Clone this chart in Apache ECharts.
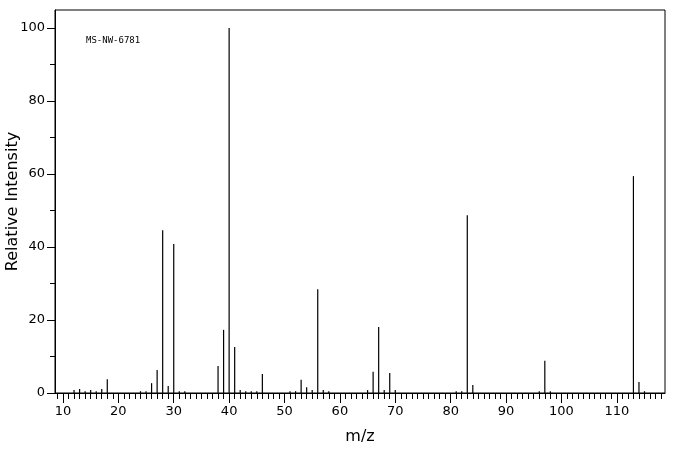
<!DOCTYPE html>
<html><head><meta charset="utf-8">
<script src="https://cdn.jsdelivr.net/npm/echarts@6/dist/echarts.min.js"></script>
<style>html,body{margin:0;padding:0;background:#fff}#c{width:676px;height:455px}</style>
</head><body><div id="c"></div>
<script>
const mz = [12,13,14,15,16,17,18,24,25,26,27,28,29,30,31,32,38,39,40,41,42,43,44,45,46,51,52,53,54,55,56,57,58,65,66,67,68,69,70,81,82,83,84,96,97,98,113,114,115];
const intensity = [0.8,1.1,0.5,0.8,0.5,1.1,3.8,0.5,0.5,2.7,6.3,44.6,1.9,40.8,0.5,0.5,7.4,17.3,100,12.6,0.8,0.5,0.5,0.5,5.2,0.5,0.5,3.6,1.6,0.8,28.4,0.8,0.5,0.8,5.8,18.1,0.8,5.5,0.8,0.5,0.5,48.7,2.2,0.5,8.8,0.5,59.4,3.0,0.5];
const xLabels = [10,20,30,40,50,60,70,80,90,100,110];
const yLabels = [0,20,40,60,80,100];
const minorX = []; for (let v = 9; v <= 118; v++) minorX.push(v);
const minorY = [10,30,50,70,90];
const font = 'DejaVu Sans';
const chart = echarts.init(document.getElementById('c'));
chart.setOption({
  animation:false,
  grid:{left:55,right:11,top:10,bottom:62,show:true,borderColor:'#000',borderWidth:1,outerBoundsMode:'none',containLabel:false},
  graphic:[{type:'text',left:86,top:36,style:{text:'MS-NW-6781',font:'9px "DejaVu Sans Mono"',fill:'#000'}}],
  xAxis:[{type:'value',min:8.56,max:118.7,position:'bottom',
    name:'m/z',nameLocation:'middle',nameGap:36,nameMoveOverlap:false,nameTextStyle:{fontFamily:font,fontSize:16,color:'#000'},
    axisLine:{onZero:false,lineStyle:{color:'#000'}},splitLine:{show:false},
    axisTick:{customValues:xLabels,length:10,inside:false,lineStyle:{color:'#000'}},
    axisLabel:{customValues:xLabels,color:'#000',fontFamily:font,fontSize:13,margin:12}},
   {type:'value',min:8.56,max:118.7,position:'bottom',
    axisLine:{show:false},splitLine:{show:false},axisLabel:{show:false},
    axisTick:{customValues:minorX,length:6,lineStyle:{color:'#000'}}}],
  yAxis:[{type:'value',min:0,max:104.9,
    name:'Relative Intensity',nameLocation:'middle',nameGap:34,nameMoveOverlap:false,nameTextStyle:{fontFamily:font,fontSize:16,color:'#000'},
    axisLine:{show:true,lineStyle:{color:'#000'}},splitLine:{show:false},
    axisTick:{customValues:yLabels,length:8,lineStyle:{color:'#000'}},
    axisLabel:{customValues:yLabels,color:'#000',fontFamily:font,fontSize:13,margin:10}},
   {type:'value',min:0,max:104.9,position:'left',
    axisLine:{show:false},splitLine:{show:false},axisLabel:{show:false},
    axisTick:{customValues:minorY,length:5,lineStyle:{color:'#000'}}}],
  series:[{type:'bar',xAxisIndex:0,yAxisIndex:0,barWidth:1.2,itemStyle:{color:'#000'},
    data:mz.map((m,i)=>[m,intensity[i]])}]
});
</script></body></html>
